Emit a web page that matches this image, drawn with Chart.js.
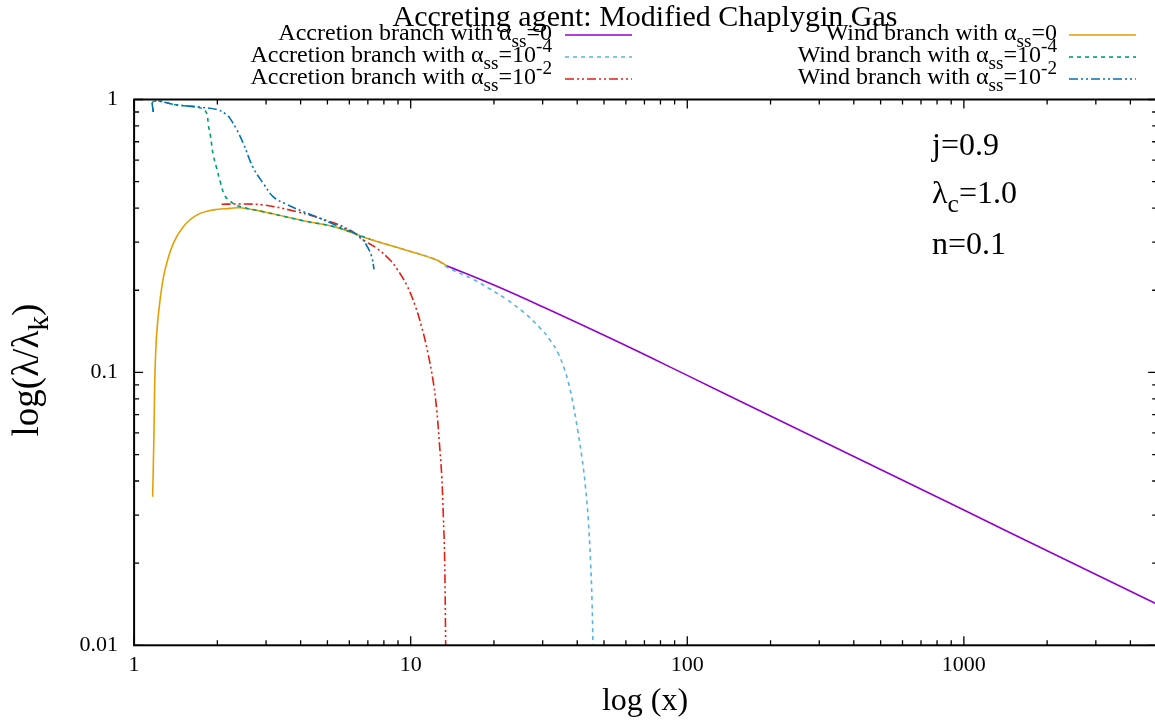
<!DOCTYPE html>
<html>
<head>
<meta charset="utf-8">
<script src="https://cdn.jsdelivr.net/npm/chart.js@4/dist/chart.umd.min.js"></script>
<style>
  html, body { margin: 0; padding: 0; overflow: hidden; background: #fff; width: 1155px; height: 721px; }
  #wrap { width: 1160px; height: 721px; }
  canvas { display: block; }
</style>
</head>
<body>
<div id="wrap"><canvas id="chart" width="1160" height="721"></canvas></div>
<script>
// ---- series values (x = radial distance, y = lambda / lambda_K) ----
// accretion branch, alpha_ss = 0
const accZeroX = [13.49, 20, 30, 57.1, 100, 200, 500, 1000, 2000, 5000];
const accZeroY = [0.246, 0.209, 0.174, 0.1284, 0.0975, 0.0692, 0.0441, 0.0313, 0.0222, 0.01415];
// accretion branch, alpha_ss = 1e-4
const accLowX = [7.13, 9.40, 12.42, 13.49, 16.84, 19.35, 22.24, 25.53, 29.35, 31.89, 34.08, 35.84, 37.36, 38.71, 40.26, 41.63, 42.86, 43.87, 44.67, 45.24, 45.62];
const accLowY = [0.3074, 0.2825, 0.2581, 0.2433, 0.2190, 0.2021, 0.1850, 0.1665, 0.1455, 0.1315, 0.1178, 0.1038, 0.0899, 0.0760, 0.0605, 0.0486, 0.0380, 0.0288, 0.02054, 0.01466, 0.00994];
// accretion branch, alpha_ss = 1e-2
const accHighX = [2.073, 2.415, 2.932, 3.872, 5.11, 6.03, 6.74, 7.54, 8.42, 8.90, 9.67, 10.36, 10.96, 11.48, 12.07, 12.42, 12.69, 12.95, 13.12, 13.27, 13.38, 13.40];
const accHighY = [0.413, 0.4141, 0.4107, 0.3880, 0.3567, 0.3323, 0.3055, 0.2849, 0.2581, 0.2403, 0.2091, 0.1766, 0.1467, 0.1208, 0.0922, 0.0728, 0.0556, 0.0417, 0.0300, 0.02054, 0.0102, 0.0095];
// wind branch, alpha_ss = 0
const windZeroX = [1.167, 1.180, 1.190, 1.207, 1.241, 1.293, 1.386, 1.506, 1.684, 1.933, 2.222, 2.415, 2.931, 4.09, 5.40, 7.13, 9.40, 12.42, 13.49];
const windZeroY = [0.0350, 0.0598, 0.0992, 0.139, 0.184, 0.237, 0.297, 0.342, 0.377, 0.394, 0.399, 0.401, 0.388, 0.3596, 0.340, 0.3074, 0.2825, 0.2581, 0.246];
// wind branch, alpha_ss = 1e-4
const windLowX = [1.173, 1.175, 1.426, 1.756, 1.830, 1.855, 1.886, 1.933, 1.989, 2.045, 2.132, 2.254, 2.355, 2.931, 4.09, 5.40, 7.13];
const windLowY = [0.900, 0.983, 0.955, 0.929, 0.890, 0.806, 0.741, 0.626, 0.560, 0.503, 0.443, 0.420, 0.408, 0.388, 0.3596, 0.340, 0.3074];
// wind branch, alpha_ss = 1e-2
const windHighX = [1.173, 1.175, 1.426, 1.756, 1.989, 2.161, 2.222, 2.349, 2.482, 2.698, 2.932, 3.187, 3.563, 4.09, 4.70, 5.40, 6.03, 6.56, 6.93, 7.23, 7.37];
const windHighY = [0.900, 0.983, 0.955, 0.936, 0.919, 0.880, 0.853, 0.776, 0.691, 0.561, 0.493, 0.440, 0.4124, 0.388, 0.367, 0.3453, 0.3297, 0.3143, 0.2917, 0.2655, 0.2386];

// ---- tick labels ----
const xTickValues = [1, 10, 100, 1000];
const xTickLabels = ['1', '10', '100', '1000'];
const yTickValues = [0.01, 0.1, 1];
const yTickLabels = ['0.01', '0.1', '1'];

// ---- texts ----
const titleText = 'Accreting agent: Modified Chaplygin Gas';
const xTitle = 'log (x)';
const yTitle = 'log(λ/λ_{k})';
const notes = ['j=0.9', 'λ_{c}=1.0', 'n=0.1'];
const seriesLabels = [
  'Accretion branch with α_{ss}=0',
  'Accretion branch with α_{ss}=10^{-4}',
  'Accretion branch with α_{ss}=10^{-2}',
  'Wind branch with α_{ss}=0',
  'Wind branch with α_{ss}=10^{-4}',
  'Wind branch with α_{ss}=10^{-2}'
];

const FONT = "'Liberation Serif', 'Times New Roman', serif";
const DASH = [4, 4];
const DASH_DOT_DOT = [9, 3, 2, 3, 2, 3];

function pts(xs, ys) { return xs.map((x, i) => ({ x: x, y: ys[i] })); }

function logMarks(lo, hi) {
  // 1..9 multiples of each decade between lo and hi (axis tick marks)
  const out = [];
  for (let e = Math.floor(Math.log10(lo)); e <= Math.ceil(Math.log10(hi)); e++) {
    for (let m = 1; m <= 9; m++) {
      const v = +(m * Math.pow(10, e)).toPrecision(6);
      if (v >= lo * 0.999999 && v <= hi * 1.000001) out.push(v);
    }
  }
  return out;
}
function isDecade(v) { const l = Math.log10(v); return Math.abs(l - Math.round(l)) < 1e-6; }
function labelFor(v, vals, labels) {
  for (let i = 0; i < vals.length; i++) if (Math.abs(v - vals[i]) / vals[i] < 1e-6) return labels[i];
  return '';
}

// enhanced text: _{sub} and ^{sup}
function parseRich(s) {
  const parts = []; let i = 0, buf = '';
  while (i < s.length) {
    if ((s[i] === '_' || s[i] === '^') && s[i + 1] === '{') {
      if (buf) { parts.push({ t: buf, k: 0 }); buf = ''; }
      const end = s.indexOf('}', i);
      parts.push({ t: s.slice(i + 2, end), k: s[i] === '_' ? 1 : 2 });
      i = end + 1;
    } else { buf += s[i]; i++; }
  }
  if (buf) parts.push({ t: buf, k: 0 });
  return parts;
}
function richWidth(ctx, parts, size) {
  let w = 0;
  for (const p of parts) {
    ctx.font = (p.k ? size * 0.8 : size) + 'px ' + FONT;
    w += ctx.measureText(p.t).width;
  }
  return w;
}
function drawRich(ctx, str, x, y, size, align) {
  const parts = parseRich(str);
  const w = richWidth(ctx, parts, size);
  let cx = align === 'right' ? x - w : align === 'center' ? x - w / 2 : x;
  ctx.textBaseline = 'alphabetic';
  ctx.textAlign = 'left';
  for (const p of parts) {
    const fs = p.k ? size * 0.8 : size;
    ctx.font = fs + 'px ' + FONT;
    const dy = p.k === 1 ? size * 0.28 : p.k === 2 ? -size * 0.42 : 0;
    ctx.fillText(p.t, cx, y + dy);
    cx += ctx.measureText(p.t).width;
  }
}

const framePlugin = {
  id: 'frameTicks',
  afterDraw(chart) {
    const { ctx, chartArea: a, scales: { x, y } } = chart;
    ctx.save();
    ctx.strokeStyle = '#000';
    ctx.lineWidth = 1.3;
    ctx.beginPath();
    for (const t of x.ticks) {
      const px = x.getPixelForValue(t.value);
      const len = isDecade(t.value) ? 9 : 5;
      ctx.moveTo(px, a.bottom); ctx.lineTo(px, a.bottom - len);
      ctx.moveTo(px, a.top); ctx.lineTo(px, a.top + len);
    }
    for (const t of y.ticks) {
      const py = y.getPixelForValue(t.value);
      const len = isDecade(t.value) ? 9 : 5;
      ctx.moveTo(a.left, py); ctx.lineTo(a.left + len, py);
      ctx.moveTo(a.right, py); ctx.lineTo(a.right - len, py);
    }
    ctx.stroke();
    ctx.lineWidth = 2;
    ctx.strokeRect(a.left, a.top, a.right - a.left, a.bottom - a.top);
    ctx.restore();
  }
};

const textPlugin = {
  id: 'texts',
  afterDraw(chart) {
    const { ctx } = chart;
    ctx.save();
    ctx.fillStyle = '#000';
    drawRich(ctx, titleText, 645, 26, 30, 'center');
    // key: two columns, three rows
    const rowsY = [40, 62, 84];
    chart.data.datasets.forEach((ds, i) => {
      const col = i < 3 ? 0 : 1;
      const row = i % 3;
      const textRight = col === 0 ? 552 : 1057;
      const sx0 = col === 0 ? 565 : 1069;
      const by = rowsY[row];
      ctx.fillStyle = '#000';
      drawRich(ctx, ds.label, textRight, by, 24, 'right');
      ctx.beginPath();
      ctx.strokeStyle = ds.borderColor;
      ctx.lineWidth = ds.borderWidth;
      ctx.setLineDash(ds.borderDash || []);
      ctx.moveTo(sx0, by - 5); ctx.lineTo(sx0 + 67, by - 5);
      ctx.stroke();
      ctx.setLineDash([]);
    });
    ctx.fillStyle = '#000';
    // parameter notes
    const noteY = [155, 203, 254];
    notes.forEach((n, i) => drawRich(ctx, n, 932, noteY[i], 32, 'left'));
    // axis titles
    drawRich(ctx, xTitle, 645, 710, 32, 'center');
    ctx.save();
    ctx.translate(38, 370);
    ctx.rotate(-Math.PI / 2);
    drawRich(ctx, yTitle, 0, 0, 37, 'center');
    ctx.restore();
    ctx.restore();
  }
};

function series(label, xs, ys, color, dash, order) {
  return {
    label: label, data: pts(xs, ys), borderColor: color, borderWidth: 1.6,
    borderDash: dash, pointRadius: 0, fill: false, order: order,
    tension: 0.4
  };
}

new Chart(document.getElementById('chart'), {
  type: 'line',
  data: {
    datasets: [
      series(seriesLabels[0], accZeroX, accZeroY, '#9400d3', [], 6),
      series(seriesLabels[1], accLowX, accLowY, '#56b4e9', DASH, 5),
      series(seriesLabels[2], accHighX, accHighY, '#e51e10', DASH_DOT_DOT, 4),
      series(seriesLabels[3], windZeroX, windZeroY, '#e69f00', [], 3),
      series(seriesLabels[4], windLowX, windLowY, '#009e73', DASH, 2),
      series(seriesLabels[5], windHighX, windHighY, '#0072b2', DASH_DOT_DOT, 1)
    ]
  },
  options: {
    responsive: false,
    devicePixelRatio: 1,
    animation: false,
    layout: { padding: { left: 0, top: 99.5, right: 2.8, bottom: 0 } },
    plugins: { legend: { display: false }, title: { display: false }, tooltip: { enabled: false } },
    scales: {
      x: {
        type: 'logarithmic', min: 1, max: 5000,
        grid: { display: false, drawTicks: false }, border: { display: false },
        ticks: {
          autoSkip: false, maxRotation: 0, padding: 7, color: '#000',
          font: { family: FONT, size: 22 },
          callback: (v) => labelFor(v, xTickValues, xTickLabels)
        },
        afterBuildTicks: (s) => { s.ticks = logMarks(1, 5000).map(v => ({ value: v })); },
        afterFit: (s) => { s.height = 75.7; s.paddingLeft = 0; s.paddingRight = 0; }
      },
      y: {
        type: 'logarithmic', min: 0.01, max: 1,
        grid: { display: false, drawTicks: false }, border: { display: false },
        ticks: {
          autoSkip: false, padding: 16, color: '#000',
          font: { family: FONT, size: 22 },
          callback: (v) => labelFor(v, yTickValues, yTickLabels)
        },
        afterBuildTicks: (s) => { s.ticks = logMarks(0.01, 1).map(v => ({ value: v })); },
        afterFit: (s) => { s.width = 134.1; s.paddingTop = 0; s.paddingBottom = 0; }
      }
    }
  },
  plugins: [framePlugin, textPlugin]
});
</script>
</body>
</html>
